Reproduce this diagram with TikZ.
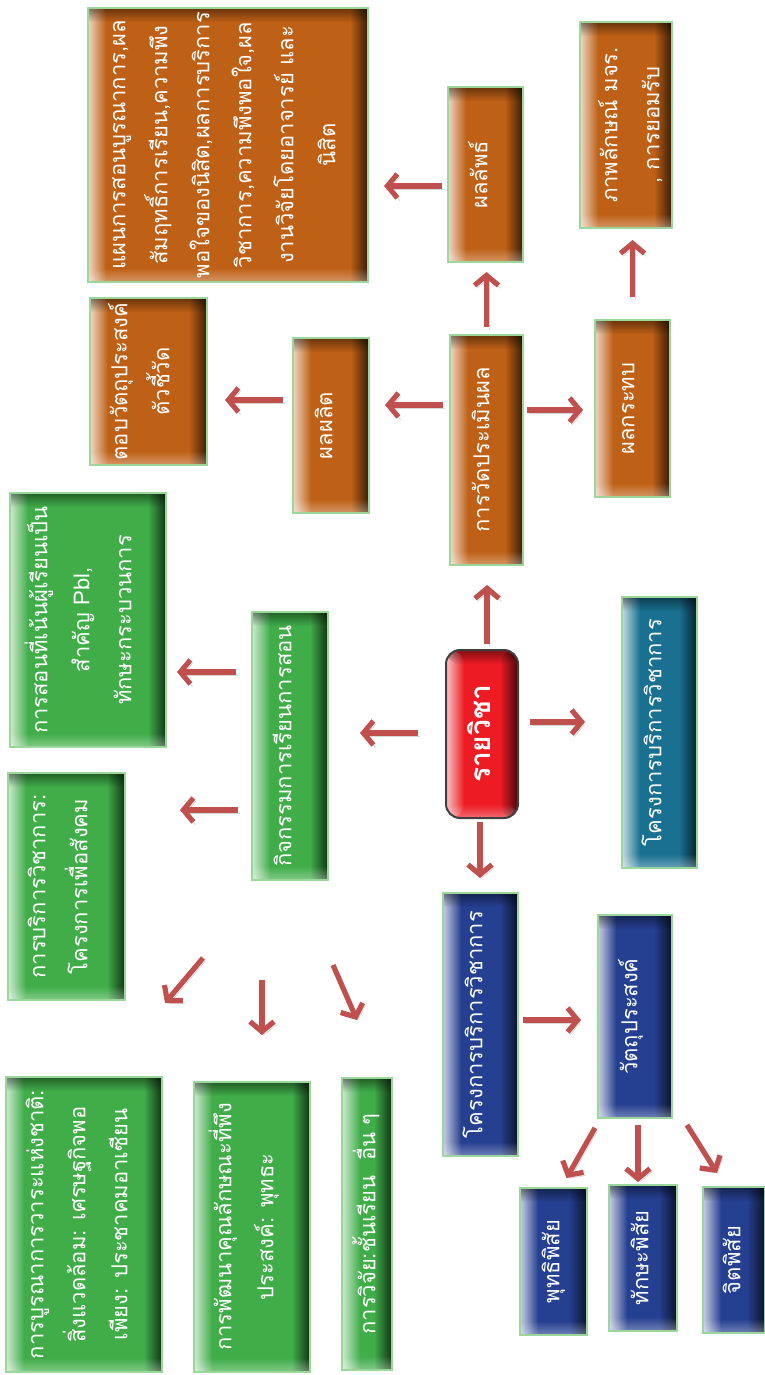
\documentclass[tikz,border=0pt]{standalone}
\usepackage{fontspec}
\setmainfont[Script=Thai]{Loma}
\usepackage{graphicx}
\usetikzlibrary{arrows.meta,fadings,calc}
\definecolor{orgc}{HTML}{BE6016}
\definecolor{grnc}{HTML}{40AD49}
\definecolor{bluc}{HTML}{264091}
\definecolor{tealc}{HTML}{197091}
\definecolor{redc}{HTML}{ED1C24}
\definecolor{arrc}{HTML}{C0504D}
\definecolor{edgec}{HTML}{9BD79B}
\newcommand{\bx}[8]{%
  \pgfmathsetlengthmacro{\bw}{(#5-#3)*0.5pt}%
  \pgfmathsetlengthmacro{\bh}{(#6-#4)*0.5pt}%
  \pgfmathsetlengthmacro{\bp}{#7*0.5pt}%
  \node[#2, minimum width=\bw, minimum height=\bh] (#1) at ({(#3+#5)/2},{(#4+#6)/2})
    {\hbox to \bw{\hskip\bp\rotatebox{90}{\begin{tabular}{@{}c@{}}#8\end{tabular}}\hss}};%
}
\tikzset{
  bevel/.style={path picture={
    \coordinate (bbsw) at (path picture bounding box.south west);
    \coordinate (bbne) at (path picture bounding box.north east);
    \coordinate (bbnw) at (bbsw |- bbne);
    \coordinate (bbse) at (bbne |- bbsw);
    \fill[white, opacity=0.75, path fading=east] (bbsw) rectangle ($(bbnw)+(9pt,0)$);
    \fill[black, opacity=0.7, path fading=west] ($(bbse)+(-9pt,0)$) rectangle (bbne);
    \fill[black, opacity=0.45, path fading=south] ($(bbnw)+(0,-7pt)$) rectangle (bbne);
    \fill[white, opacity=0.35, path fading=north] (bbsw) rectangle ($(bbse)+(0,7pt)$);
  }},
  boxbase/.style={rectangle, inner sep=0pt, outer sep=0pt, text=white,
    draw=edgec, line width=0.7pt, bevel,
    font=\fontsize{11}{21}\selectfont},
  obox/.style={boxbase, fill=orgc},
  gbox/.style={boxbase, fill=grnc},
  bbox/.style={boxbase, fill=bluc},
  tbox/.style={boxbase, fill=tealc},
  rbox/.style={boxbase, fill=redc, draw=black!75, line width=1pt, rounded corners=7pt,
    font=\fontsize{14}{22}\selectfont\bfseries},
  arr/.style={draw=arrc, line width=2.6pt, -{Straight Barb[length=5pt,width=12pt]},
    preaction={draw=black!45, opacity=0.35, transform canvas={shift={(1.2pt,-1.5pt)}}}},
}
\begin{document}
\begin{tikzpicture}[x=0.5pt,y=-0.5pt]
\useasboundingbox (0,0) rectangle (765,1375);
% evaluation branch
\bx{big}{obox}{88}{8}{368}{282}{8}{แผนการสอนบูรณาการ,ผล\\สัมฤทธิ์การเรียน,ความพึง\\พอใจของนิสิต,ผลการบริการ\\วิชาการ,ความพึงพอใจ,ผล\\งานวิจัยโดยอาจารย์ และ\\นิสิต}
\bx{res}{obox}{448}{87}{523}{262}{10}{ผลลัพธ์}
\bx{image}{obox}{580}{22}{672}{228}{8}{ภาพลักษณ์ มจร.\\, การยอมรับ}
\bx{obj}{obox}{90}{298}{207}{465}{8}{ตอบวัตถุประสงค์\\ตัวชี้วัด}
\bx{out}{obox}{293}{338}{369}{513}{10}{ผลผลิต}
\bx{eval}{obox}{450}{335}{523}{565}{10}{การวัดประเมินผล}
\bx{impact}{obox}{595}{320}{670}{497}{10}{ผลกระทบ}
% center
\bx{subj}{rbox}{446}{650}{518}{818}{14}{รายวิชา}
% teaching branch
\bx{teach}{gbox}{10}{493}{166}{747}{8}{การสอนที่เน้นผู้เรียนเป็น\\สำคัญ Pbl,\\ทักษะกระบวนการ}
\bx{act}{gbox}{252}{612}{328}{880}{10}{กิจกรรมการเรียนการสอน}
\bx{svc}{gbox}{8}{773}{125}{1000}{8}{การบริการวิชาการ:\\โครงการเพื่อสังคม}
\bx{integ}{gbox}{6}{1077}{162}{1372}{8}{การบูรณาการวาระแห่งชาติ:\\สิ่งแวดล้อม: เศรษฐกิจพอ\\เพียง: ประชาคมอาเซียน}
\bx{dev}{gbox}{194}{1082}{310}{1372}{8}{การพัฒนาคุณลักษณะที่พึง\\ประสงค์: พุทธะ}
\bx{rsch}{gbox}{342}{1078}{392}{1370}{4}{การวิจัย:ชั้นเรียน\ \ อื่น ๆ}
% service branch
\bx{teal}{tbox}{622}{597}{697}{868}{10}{โครงการบริการวิชาการ}
\bx{blue}{bbox}{443}{893}{518}{1156}{10}{โครงการบริการวิชาการ}
\bx{vobj}{bbox}{598}{915}{672}{1118}{10}{วัตถุประสงค์}
\bx{p1}{bbox}{520}{1188}{587}{1335}{10}{พุทธิพิสัย}
\bx{p2}{bbox}{609}{1185}{677}{1331}{10}{ทักษะพิสัย}
\bx{p3}{bbox}{703}{1187}{765}{1333}{8}{จิตพิสัย}
% arrows
\draw[arr, shorten <=3pt, shorten >=10pt] ([xshift=2.5pt]subj.north) -- ([xshift=2.5pt]subj.north |- eval.south);
\draw[arr, shorten <=14pt, shorten >=16pt] ([yshift=0.5pt]subj.west) -- ([yshift=0.5pt]subj.west -| act.east);
\draw[arr, shorten <=6pt, shorten >=18.5pt] ([yshift=6pt]subj.east) -- ([yshift=6pt]subj.east -| teal.west);
\draw[arr, shorten <=2pt, shorten >=7.5pt] ([xshift=-1pt]subj.south) -- ([xshift=-1pt]subj.south |- blue.north);
\draw[arr, shorten <=3.5pt, shorten >=8pt] ([yshift=22.5pt]eval.west) -- ([yshift=22.5pt]eval.west -| out.east);
\draw[arr, shorten <=5pt, shorten >=9pt] ([yshift=12.75pt]out.west) -- ([yshift=12.75pt]out.west -| obj.east);
\draw[arr, shorten <=2pt, shorten >=6pt] ([yshift=20pt]eval.east) -- ([yshift=20pt]eval.east -| impact.west);
\draw[arr, shorten <=4pt, shorten >=5pt] (eval.north) -- (eval.north |- res.south);
\draw[arr, shorten <=3pt, shorten >=8pt] ([yshift=-5.75pt]res.west) -- ([yshift=-5.75pt]res.west -| big.east);
\draw[arr, shorten <=11.5pt, shorten >=6pt] (impact.north) -- (impact.north |- image.south);
\draw[arr, shorten <=8pt, shorten >=5.5pt] ([yshift=37pt]act.west) -- ([yshift=37pt]act.west -| teach.east);
\draw[arr, shorten <=7pt, shorten >=27.5pt] ([yshift=-32pt]act.west) -- ([yshift=-32pt]act.west -| svc.east);
\draw[arr] ([xshift=-43.5pt,yshift=-39pt]act.south) -- ([xshift=40.5pt,yshift=37pt]integ.north);
\draw[arr] ([xshift=-14pt,yshift=-50pt]act.south) -- ([xshift=-14pt,yshift=23.5pt]act.south |- dev.north);
\draw[arr] ([xshift=21.5pt,yshift=-42.5pt]act.south) -- ([xshift=-5pt,yshift=29pt]rsch.north);
\draw[arr, shorten <=2.5pt, shorten >=8.5pt] ([yshift=2.25pt]blue.east) -- ([yshift=2.25pt]blue.east -| vobj.west);
\draw[arr, shorten <=5.7pt, shorten >=5.7pt] ([xshift=-17.2pt]vobj.south) -- ([xshift=3.7pt]p1.north);
\draw[arr, shorten <=3.5pt, shorten >=1.5pt] ([xshift=1.5pt]vobj.south) -- ([xshift=1.5pt]vobj.south |- p2.north);
\draw[arr, shorten <=4.1pt, shorten >=8.3pt] ([xshift=23.8pt]vobj.south) -- ([xshift=-4.1pt]p3.north);
\end{tikzpicture}
\end{document}
